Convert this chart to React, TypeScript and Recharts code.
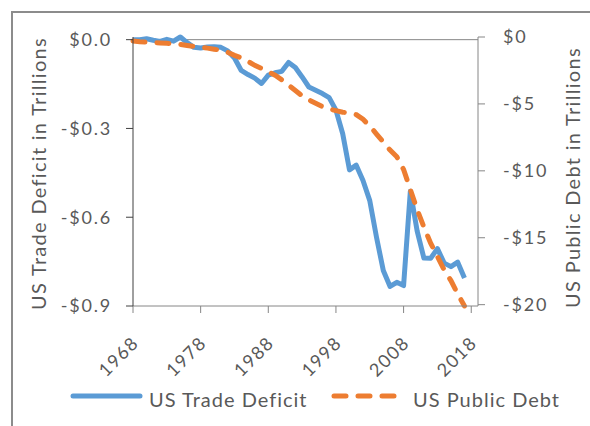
import { Legend, Line, LineChart, ReferenceLine, XAxis, YAxis } from 'recharts';

// Annual values, 1968–2017, in trillions of dollars (negative = deficit / debt)
const years = [
  1968, 1969, 1970, 1971, 1972, 1973, 1974, 1975, 1976, 1977,
  1978, 1979, 1980, 1981, 1982, 1983, 1984, 1985, 1986, 1987,
  1988, 1989, 1990, 1991, 1992, 1993, 1994, 1995, 1996, 1997,
  1998, 1999, 2000, 2001, 2002, 2003, 2004, 2005, 2006, 2007,
  2008, 2009, 2010, 2011, 2012, 2013, 2014, 2015, 2016, 2017,
];

const tradeDeficit = [
  0.0, 0.0, 0.003, -0.002, -0.006, 0.001, -0.005, 0.009, -0.01, -0.026,
  -0.028, -0.025, -0.024, -0.026, -0.038, -0.062, -0.104, -0.118, -0.13, -0.148,
  -0.12, -0.112, -0.107, -0.077, -0.094, -0.126, -0.16, -0.171, -0.182, -0.196,
  -0.238, -0.318, -0.44, -0.424, -0.476, -0.544, -0.668, -0.78, -0.834, -0.82,
  -0.831, -0.512, -0.646, -0.738, -0.739, -0.706, -0.755, -0.767, -0.752, -0.805,
];

const publicDebt = [
  -0.3, -0.35, -0.38, -0.41, -0.44, -0.47, -0.5, -0.55, -0.63, -0.7,
  -0.77, -0.83, -0.91, -1.0, -1.14, -1.37, -1.56, -1.82, -2.12, -2.35,
  -2.6, -2.86, -3.2, -3.6, -4.0, -4.4, -4.7, -4.95, -5.2, -5.38,
  -5.5, -5.62, -5.67, -5.8, -6.15, -6.65, -7.25, -7.85, -8.45, -8.95,
  -9.9, -11.4, -12.9, -14.2, -15.4, -16.4, -17.4, -18.2, -19.2, -20.1,
];

const yearTicks = [1968, 1978, 1988, 1998, 2008, 2018];
const tradeTicks = [0, -0.3, -0.6, -0.9];
const debtTicks = [0, -5, -10, -15, -20];

const data = years.map((year, i) => ({
  year,
  trade: tradeDeficit[i],
  debt: publicDebt[i],
}));

const FONT = 'Lato, "Noto Sans", sans-serif';
const TEXT = '#595959';
const BLUE = '#5B9BD5';
const ORANGE = '#ED7D31';

const money = (v: number, digits: number) => {
  const s = '$' + Math.abs(v).toFixed(digits);
  return v < 0 ? '-' + s : s;
};

function YearTick({ x, y, payload }: any) {
  const tx = x + 7;
  const ty = y + 29;
  return (
    <text
      x={tx}
      y={ty}
      transform={`rotate(-45 ${tx} ${ty})`}
      textAnchor="end"
      fill={TEXT}
      fontFamily={FONT}
      fontSize={18}
      letterSpacing={1.5}
    >
      {payload.value}
    </text>
  );
}

function LegendRow() {
  return (
    <svg width={590} height={30} style={{ display: 'block' }}>
      <line x1={73} y1={15} x2={140} y2={15} stroke={BLUE} strokeWidth={5} strokeLinecap="round" />
      <text x={149} y={26} fill={TEXT} fontFamily={FONT} fontSize={20} letterSpacing={1}>
        US Trade Deficit
      </text>
      <line
        x1={334}
        y1={15}
        x2={396}
        y2={15}
        stroke={ORANGE}
        strokeWidth={5}
        strokeDasharray="12 12"
        strokeLinecap="round"
      />
      <text x={413} y={26} fill={TEXT} fontFamily={FONT} fontSize={20} letterSpacing={1}>
        US Public Debt
      </text>
    </svg>
  );
}

function AxisTitle({ viewBox, dx, dy, text }: any) {
  const x = viewBox.x + dx;
  const y = viewBox.y + viewBox.height / 2 + dy;
  return (
    <text
      x={x}
      y={y}
      transform={`rotate(-90 ${x} ${y})`}
      textAnchor="middle"
      fill={TEXT}
      fontFamily={FONT}
      fontSize={20}
      letterSpacing={1.3}
    >
      {text}
    </text>
  );
}

export default function App() {
  return (
    <div style={{ position: 'fixed', left: 0, top: 0, width: 590, height: 426, background: '#fff' }}>
      <div
        style={{
          position: 'absolute',
          left: 11,
          top: 11,
          width: 600,
          height: 500,
          borderLeft: '2px solid #8c8c8c',
          borderTop: '2px solid #8c8c8c',
        }}
      />
      <LineChart
        width={590}
        height={426}
        data={data}
        margin={{ top: 37, right: 0, bottom: 0, left: 0 }}
        style={{ position: 'absolute', left: 0, top: 0 }}
      >
        <XAxis
          dataKey="year"
          type="number"
          domain={[1968, 2019]}
          ticks={yearTicks}
          interval={0}
          height={90}
          stroke="#868686"
          tickSize={7}
          tick={<YearTick />}
        />
        <YAxis
          yAxisId="trade"
          orientation="left"
          width={133}
          domain={[-0.9, 0]}
          ticks={tradeTicks}
          interval={0}
          stroke="#404040"
          tickSize={7}
          tickMargin={14}
          tickFormatter={(v: number) => money(v, 1)}
          tick={{ fill: TEXT, fontFamily: FONT, fontSize: 18, letterSpacing: 1.8 }}
          label={(props: any) => (
            <AxisTitle {...props} dx={46} dy={2} text="US Trade Deficit in Trillions" />
          )}
        />
        <YAxis
          yAxisId="debt"
          orientation="right"
          width={112}
          domain={[-20, 0]}
          ticks={debtTicks}
          interval={0}
          stroke="#868686"
          tickSize={7}
          tickMargin={18}
          tickFormatter={(v: number) => money(v, 0)}
          tick={{ fill: TEXT, fontFamily: FONT, fontSize: 18, letterSpacing: 1.8, textAnchor: 'start' }}
          label={(props: any) => (
            <AxisTitle {...props} dx={102} dy={6} text="US Public Debt in Trillions" />
          )}
        />
        <ReferenceLine yAxisId="trade" y={0} stroke="#868686" />
        <Line
          yAxisId="trade"
          dataKey="trade"
          stroke={BLUE}
          strokeWidth={5}
          dot={false}
          type="linear"
          strokeLinejoin="round"
          isAnimationActive={false}
        />
        <Line
          yAxisId="debt"
          dataKey="debt"
          stroke={ORANGE}
          strokeWidth={5}
          strokeDasharray="12 12"
          strokeLinecap="round"
          dot={false}
          type="linear"
          isAnimationActive={false}
        />
        <Legend
          verticalAlign="bottom"
          content={() => <LegendRow />}
          wrapperStyle={{ left: 0, bottom: 15, width: 590, height: 30 }}
        />
      </LineChart>
    </div>
  );
}
